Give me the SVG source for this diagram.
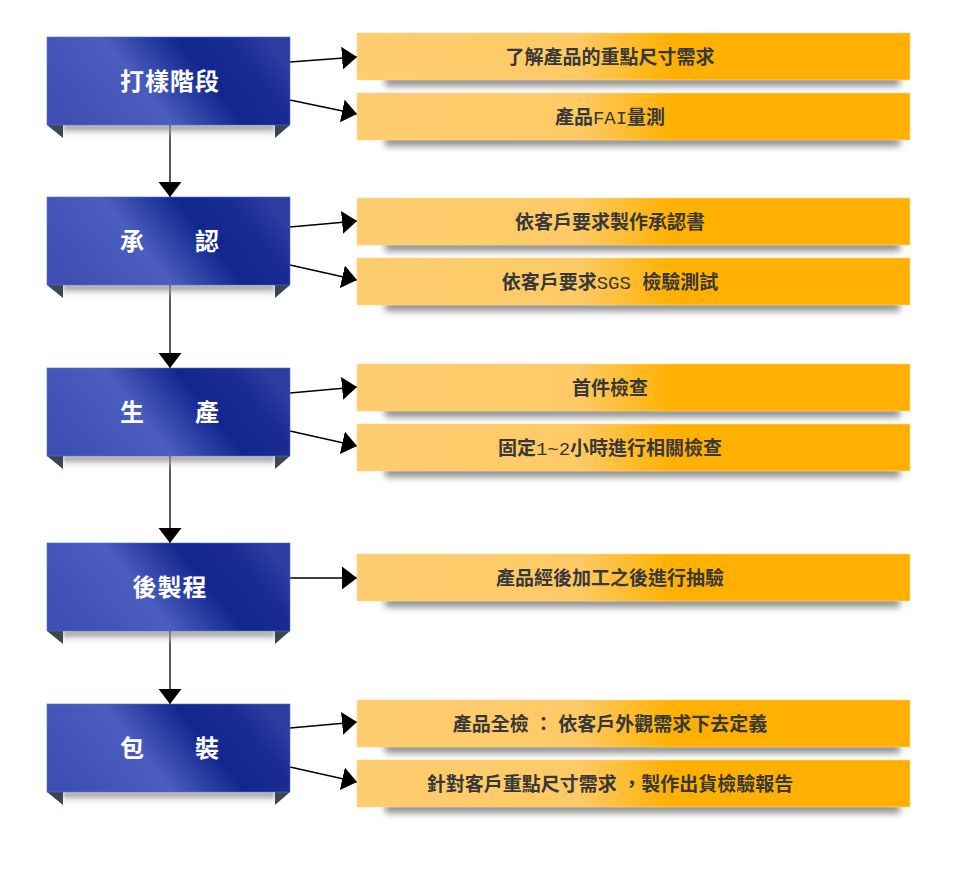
<svg xmlns="http://www.w3.org/2000/svg" width="970" height="875" viewBox="0 0 970 875">
<defs>
<linearGradient id="blueG" x1="0" y1="0.645" x2="1" y2="0.355">
<stop offset="0" stop-color="#3D4FB3"/>
<stop offset="0.38" stop-color="#4B5EBE"/>
<stop offset="0.66" stop-color="#11278F"/>
<stop offset="0.86" stop-color="#182C94"/>
<stop offset="1" stop-color="#2C3EA2"/>
</linearGradient>
<linearGradient id="yelG" x1="0" y1="0" x2="1" y2="0">
<stop offset="0" stop-color="#FECD70"/>
<stop offset="0.4" stop-color="#FECA66"/>
<stop offset="0.57" stop-color="#FFB000"/>
<stop offset="1" stop-color="#FFB000"/>
</linearGradient>
<linearGradient id="bShG" x1="0" y1="0" x2="0" y2="1">
<stop offset="0" stop-color="#6E6E6E"/>
<stop offset="1" stop-color="#FFFFFF" stop-opacity="0"/>
</linearGradient>
<filter id="blur" x="-10%" y="-100%" width="120%" height="300%">
<feGaussianBlur stdDeviation="3.5"/>
</filter>
<filter id="blur2" x="-10%" y="-100%" width="120%" height="300%">
<feGaussianBlur stdDeviation="2"/>
</filter>
<marker id="ah" markerUnits="userSpaceOnUse" markerWidth="16" markerHeight="24" refX="15" refY="11.5" orient="auto">
<path d="M0,0 L15,11.5 L0,23 Z" fill="#000"/>
</marker>
</defs>
<style>
.blue{fill:url(#blueG);stroke:#5A6CC8;stroke-width:0.6}
.tab{fill:#3C4650}
.bsh{fill:url(#bShG)}
.yel{fill:url(#yelG);stroke:#FFD88A;stroke-width:0.6}
.ysh{fill:#8A8A8A;filter:url(#blur)}
.st{font-family:"Noto Sans CJK TC","Noto Sans",sans-serif;font-weight:700;font-size:24px;fill:#FFFFFF;text-anchor:middle;letter-spacing:1px}
.it{font-family:"Liberation Mono","Noto Sans CJK TC",monospace;font-weight:700;font-size:19px;fill:#383838;text-anchor:middle}
.lat{font-weight:400}
.sp{font-family:"Liberation Sans",sans-serif}
.conn{stroke:#000;stroke-width:1.3;fill:none;marker-end:url(#ah)}
</style>
<rect width="970" height="875" fill="#FFFFFF"/>

<g id="connectors">
<line class="conn" x1="170" y1="125" x2="170" y2="197"/>
<line class="conn" x1="170" y1="285" x2="170" y2="368"/>
<line class="conn" x1="170" y1="456" x2="170" y2="543"/>
<line class="conn" x1="170" y1="631" x2="170" y2="704"/>
<line class="conn" x1="290" y1="62" x2="357" y2="57"/>
<line class="conn" x1="290" y1="100" x2="357" y2="114"/>
<line class="conn" x1="290" y1="227" x2="357" y2="221"/>
<line class="conn" x1="290" y1="265" x2="357" y2="280"/>
<line class="conn" x1="290" y1="393" x2="357" y2="387"/>
<line class="conn" x1="290" y1="431" x2="357" y2="446"/>
<line class="conn" x1="290" y1="578" x2="357" y2="578"/>
<line class="conn" x1="290" y1="728" x2="357" y2="722"/>
<line class="conn" x1="290" y1="767" x2="357" y2="782"/>
</g>

<g id="stage1">
<rect class="bsh" x="63" y="125" width="212" height="13" filter="url(#blur2)"/>
<polygon class="tab" points="47,125 63,125 63,138"/>
<polygon class="tab" points="275,125 290,125 275,138"/>
<rect class="blue" x="47" y="37" width="243" height="88"/>
<text class="st" x="170" y="90">打樣階段</text>
</g>
<g id="stage2">
<rect class="bsh" x="63" y="285" width="212" height="13" filter="url(#blur2)"/>
<polygon class="tab" points="47,285 63,285 63,298"/>
<polygon class="tab" points="275,285 290,285 275,298"/>
<rect class="blue" x="47" y="197" width="243" height="88"/>
<text class="st" x="170" y="250">承　　認</text>
</g>
<g id="stage3">
<rect class="bsh" x="63" y="456" width="212" height="13" filter="url(#blur2)"/>
<polygon class="tab" points="47,456 63,456 63,469"/>
<polygon class="tab" points="275,456 290,456 275,469"/>
<rect class="blue" x="47" y="368" width="243" height="88"/>
<text class="st" x="170" y="421">生　　產</text>
</g>
<g id="stage4">
<rect class="bsh" x="63" y="631" width="212" height="13" filter="url(#blur2)"/>
<polygon class="tab" points="47,631 63,631 63,644"/>
<polygon class="tab" points="275,631 290,631 275,644"/>
<rect class="blue" x="47" y="543" width="243" height="88"/>
<text class="st" x="170" y="596">後製程</text>
</g>
<g id="stage5">
<rect class="bsh" x="63" y="792" width="212" height="13" filter="url(#blur2)"/>
<polygon class="tab" points="47,792 63,792 63,805"/>
<polygon class="tab" points="275,792 290,792 275,805"/>
<rect class="blue" x="47" y="704" width="243" height="88"/>
<text class="st" x="170" y="757">包　　裝</text>
</g>

<g id="item1">
<rect class="ysh" x="385" y="76" width="515" height="10"/>
<rect class="yel" x="357" y="33" width="553" height="47"/>
<text class="it" x="610" y="63.5">了解產品的重點尺寸需求</text>
</g>
<g id="item2">
<rect class="ysh" x="385" y="136" width="515" height="10"/>
<rect class="yel" x="357" y="93" width="553" height="47"/>
<text class="it" x="610" y="123.5">產品<tspan class="lat">FAI</tspan>量測</text>
</g>
<g id="item3">
<rect class="ysh" x="385" y="241" width="515" height="10"/>
<rect class="yel" x="357" y="198" width="553" height="47"/>
<text class="it" x="610" y="228.5">依客戶要求製作承認書</text>
</g>
<g id="item4">
<rect class="ysh" x="385" y="301" width="515" height="10"/>
<rect class="yel" x="357" y="258" width="553" height="47"/>
<text class="it" x="610" y="288.5">依客戶要求<tspan class="lat">SGS </tspan>檢驗測試</text>
</g>
<g id="item5">
<rect class="ysh" x="385" y="407" width="515" height="10"/>
<rect class="yel" x="357" y="364" width="553" height="47"/>
<text class="it" x="610" y="394.5">首件檢查</text>
</g>
<g id="item6">
<rect class="ysh" x="385" y="467" width="515" height="10"/>
<rect class="yel" x="357" y="424" width="553" height="47"/>
<text class="it" x="610" y="454.5">固定<tspan class="lat">1~2</tspan>小時進行相關檢查</text>
</g>
<g id="item7">
<rect class="ysh" x="385" y="597" width="515" height="10"/>
<rect class="yel" x="357" y="554" width="553" height="47"/>
<text class="it" x="610" y="584.5">產品經後加工之後進行抽驗</text>
</g>
<g id="item8">
<rect class="ysh" x="385" y="743" width="515" height="10"/>
<rect class="yel" x="357" y="700" width="553" height="47"/>
<text class="it" x="610" y="730.5">產品全檢<tspan class="sp"> </tspan>：<tspan class="sp"> </tspan>依客戶外觀需求下去定義</text>
</g>
<g id="item9">
<rect class="ysh" x="385" y="803" width="515" height="10"/>
<rect class="yel" x="357" y="760" width="553" height="47"/>
<text class="it" x="610" y="790.5">針對客戶重點尺寸需求<tspan class="sp"> </tspan>，製作出貨檢驗報告</text>
</g>
</svg>
